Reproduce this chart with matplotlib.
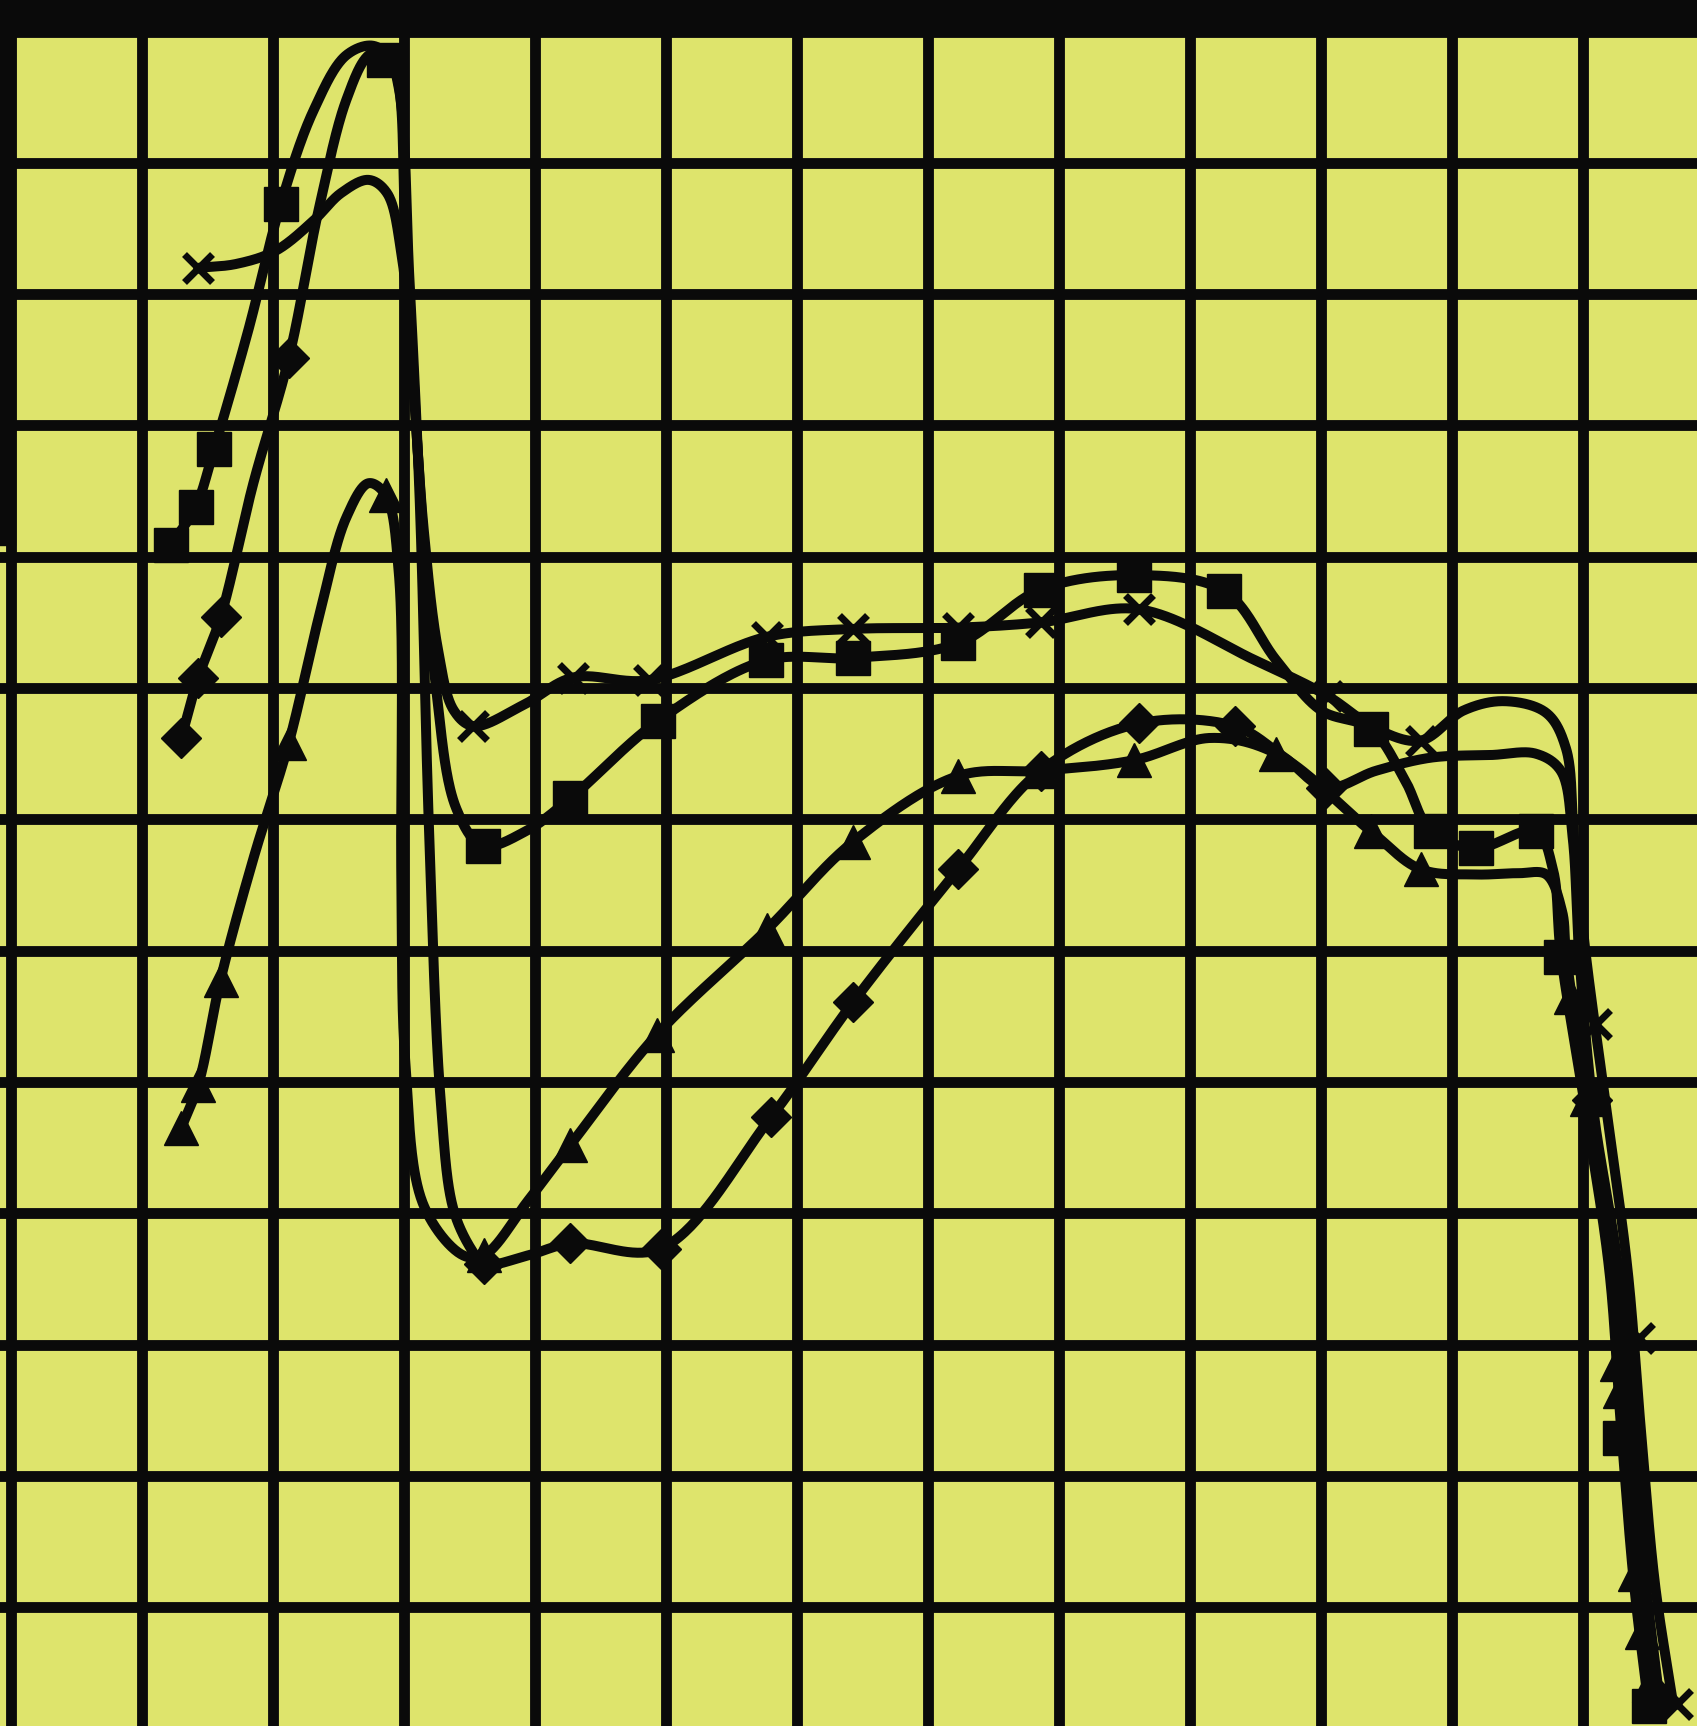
import numpy as np
import matplotlib
matplotlib.use("Agg")
import matplotlib.pyplot as plt

# grid units: one cell = 1, x gridlines at 0..12, y gridlines at 1..13
# curve paths (line only), markers listed separately

cross_x = [1.43, 1.72, 2.02, 2.31, 2.52, 2.73, 2.87, 2.98, 3.07, 3.15, 3.26, 3.38, 3.53, 3.91, 4.29,
           4.87, 5.77, 6.43, 7.23, 7.86, 8.61, 9.50, 10.05, 10.42, 10.76, 11.09, 11.40, 11.72, 11.87,
           11.93, 12.02, 12.18, 12.34, 12.44, 12.55, 12.69]
cross_y = [11.20, 11.23, 11.33, 11.56, 11.77, 11.87, 11.77, 11.31, 10.30, 9.21, 8.29, 7.83, 7.71, 7.87, 8.08,
           8.06, 8.39, 8.45, 8.46, 8.50, 8.60, 8.21, 7.94, 7.69, 7.60, 7.83, 7.90, 7.81, 7.54,
           6.87, 5.98, 4.78, 3.57, 2.37, 1.17, 0.25]
cross_mx = [1.43, 3.53, 4.29, 4.87, 5.77, 6.43, 7.23, 7.86, 8.61, 10.05, 10.76, 12.10, 12.43, 12.72]
cross_my = [11.20, 7.71, 8.08, 8.06, 8.39, 8.45, 8.46, 8.50, 8.60, 7.94, 7.60, 5.44, 3.05, 0.26]

square_x = [1.22, 1.41, 1.55, 1.81, 2.06, 2.31, 2.56, 2.77, 2.92, 3.01, 3.11, 3.24, 3.40, 3.60, 3.93,
            4.27, 4.94, 5.76, 6.43, 7.23, 7.86, 8.57, 9.26, 9.66, 10.00, 10.38, 10.64, 10.84, 11.18,
            11.64, 11.77, 11.83, 12.02, 12.20, 12.29, 12.39, 12.50]
square_y = [9.09, 9.38, 9.82, 10.72, 11.69, 12.40, 12.82, 12.89, 12.74, 11.56, 9.72, 8.04, 7.08, 6.80, 6.91,
            7.16, 7.75, 8.21, 8.23, 8.34, 8.75, 8.86, 8.74, 8.21, 7.83, 7.69, 7.30, 6.91, 6.78,
            6.91, 6.62, 5.98, 4.78, 3.57, 2.37, 1.17, 0.25]
square_mx = [1.22, 1.41, 1.55, 2.06, 2.85, 3.60, 4.27, 4.94, 5.76, 6.43, 7.23, 7.86, 8.57, 9.26,
             10.38, 10.84, 11.18, 11.64, 11.83, 12.28, 12.50]
square_my = [9.09, 9.38, 9.82, 11.69, 12.78, 6.80, 7.16, 7.75, 8.21, 8.23, 8.34, 8.75, 8.86, 8.74,
             7.69, 6.91, 6.78, 6.91, 5.95, 2.29, 0.25]

diamond_x = [1.30, 1.43, 1.60, 1.85, 2.12, 2.35, 2.56, 2.73, 2.86, 2.96, 3.04, 3.12, 3.19, 3.28, 3.38,
             3.53, 3.61, 3.95, 4.27, 4.96, 5.80, 6.43, 7.23, 7.86, 8.61, 9.34, 9.71, 10.04, 10.42, 10.84,
             11.30, 11.64, 11.83, 11.92, 11.97, 12.08, 12.27, 12.37, 12.48, 12.59]
diamond_y = [7.62, 8.08, 8.54, 9.56, 10.51, 11.65, 12.48, 12.82, 12.86, 12.57, 11.14, 9.43, 6.95, 4.86, 4.02,
             3.70, 3.61, 3.68, 3.77, 3.73, 4.73, 5.61, 6.62, 7.37, 7.73, 7.71, 7.48, 7.24, 7.37, 7.47,
             7.49, 7.50, 7.37, 6.87, 5.98, 4.78, 3.57, 2.37, 1.17, 0.25]
diamond_mx = [1.30, 1.43, 1.60, 2.12, 3.61, 4.27, 4.96, 5.80, 6.43, 7.23, 7.86, 8.61, 9.34, 10.04,
              12.07, 12.59]
diamond_my = [7.62, 8.08, 8.54, 10.51, 3.61, 3.77, 3.73, 4.73, 5.61, 6.62, 7.37, 7.73, 7.71, 7.24,
              4.86, 0.29]

tri_x = [1.30, 1.43, 1.60, 1.85, 2.12, 2.35, 2.56, 2.73, 2.86, 2.96, 2.98, 3.01, 3.15, 3.45, 3.61,
         3.95, 4.27, 4.93, 5.77, 6.43, 7.23, 7.86, 8.57, 9.16, 9.66, 10.38, 10.76, 11.18, 11.51,
         11.72, 11.84, 11.87, 12.04, 12.23, 12.32, 12.42, 12.52]
tri_y = [4.65, 4.98, 5.78, 6.70, 7.58, 8.54, 9.30, 9.56, 9.47, 8.88, 6.53, 5.15, 4.06, 3.68, 3.68,
         4.10, 4.52, 5.36, 6.16, 6.83, 7.33, 7.37, 7.45, 7.62, 7.50, 6.91, 6.62, 6.58, 6.59,
         6.58, 6.30, 5.98, 4.78, 3.57, 2.37, 1.17, 0.25]
tri_mx = [1.30, 1.43, 1.60, 2.12, 2.86, 3.61, 4.27, 4.93, 5.77, 6.43, 7.23, 7.86, 8.57, 9.66,
          10.38, 10.76, 11.91, 12.03, 12.26, 12.28, 12.40, 12.45, 12.50]
tri_my = [4.65, 4.98, 5.78, 7.58, 9.47, 3.68, 4.52, 5.36, 6.16, 6.83, 7.33, 7.37, 7.45, 7.50,
          6.91, 6.62, 5.65, 4.87, 2.85, 2.65, 1.25, 0.81, 0.41]

BG = '#dee46c'
INK = '#0a0a0a'


def smooth(xs, ys, n=40):
    # centripetal catmull-rom through the read points
    P = np.column_stack([xs, ys]).astype(float)
    P = np.vstack([2 * P[0] - P[1], P, 2 * P[-1] - P[-2]])
    out = []
    for i in range(len(P) - 3):
        p0, p1, p2, p3 = P[i:i + 4]
        t0 = 0.0
        t1 = t0 + max(np.linalg.norm(p1 - p0), 1e-6) ** 0.5
        t2 = t1 + max(np.linalg.norm(p2 - p1), 1e-6) ** 0.5
        t3 = t2 + max(np.linalg.norm(p3 - p2), 1e-6) ** 0.5
        t = np.linspace(t1, t2, n)[:, None]
        a1 = (t1 - t) / (t1 - t0) * p0 + (t - t0) / (t1 - t0) * p1
        a2 = (t2 - t) / (t2 - t1) * p1 + (t - t1) / (t2 - t1) * p2
        a3 = (t3 - t) / (t3 - t2) * p2 + (t - t2) / (t3 - t2) * p3
        b1 = (t2 - t) / (t2 - t0) * a1 + (t - t0) / (t2 - t0) * a2
        b2 = (t3 - t) / (t3 - t1) * a2 + (t - t1) / (t3 - t1) * a3
        c = (t2 - t) / (t2 - t1) * b1 + (t - t1) / (t2 - t1) * b2
        out.append(c if i == 0 else c[1:])
    c = np.vstack(out)
    return c[:, 0], c[:, 1]


fig = plt.figure(figsize=(16.97, 17.26), dpi=100)
ax = fig.add_axes([0, 0, 1, 1])
ax.set_facecolor(BG)
fig.patch.set_facecolor(BG)

ax.set_xlim(-0.084, 12.87)
ax.set_ylim(0.095, 13.24)
ax.set_xticks(range(0, 13))
ax.set_yticks(range(1, 14))
ax.grid(True, color=INK, linewidth=7.8)
ax.set_axisbelow(True)
ax.tick_params(length=0, labelbottom=False, labelleft=False)
for s in ax.spines.values():
    s.set_visible(False)

# heavy black frame bits at top and top-left
ax.axhspan(13.02, 14.0, color=INK, zorder=1)
ax.fill_between([-0.2, 0.03], 9.09, 14.0, color=INK, zorder=1)

series = [
    (cross_x, cross_y, cross_mx, cross_my, 'x', 20, 5),
    (square_x, square_y, square_mx, square_my, 's', 24, 1),
    (diamond_x, diamond_y, diamond_mx, diamond_my, 'D', 20, 1),
    (tri_x, tri_y, tri_mx, tri_my, '^', 24, 1),
]
for xs, ys, mx, my, mk, ms, mew in series:
    sx, sy = smooth(xs, ys)
    ax.plot(sx, sy, color=INK, linewidth=7.2, solid_capstyle='round',
            solid_joinstyle='round', zorder=3)
    ax.plot(mx, my, linestyle='none', marker=mk, markersize=ms, color=INK,
            markeredgewidth=mew, zorder=4)

fig.savefig('out.png', dpi=100, facecolor=BG)
